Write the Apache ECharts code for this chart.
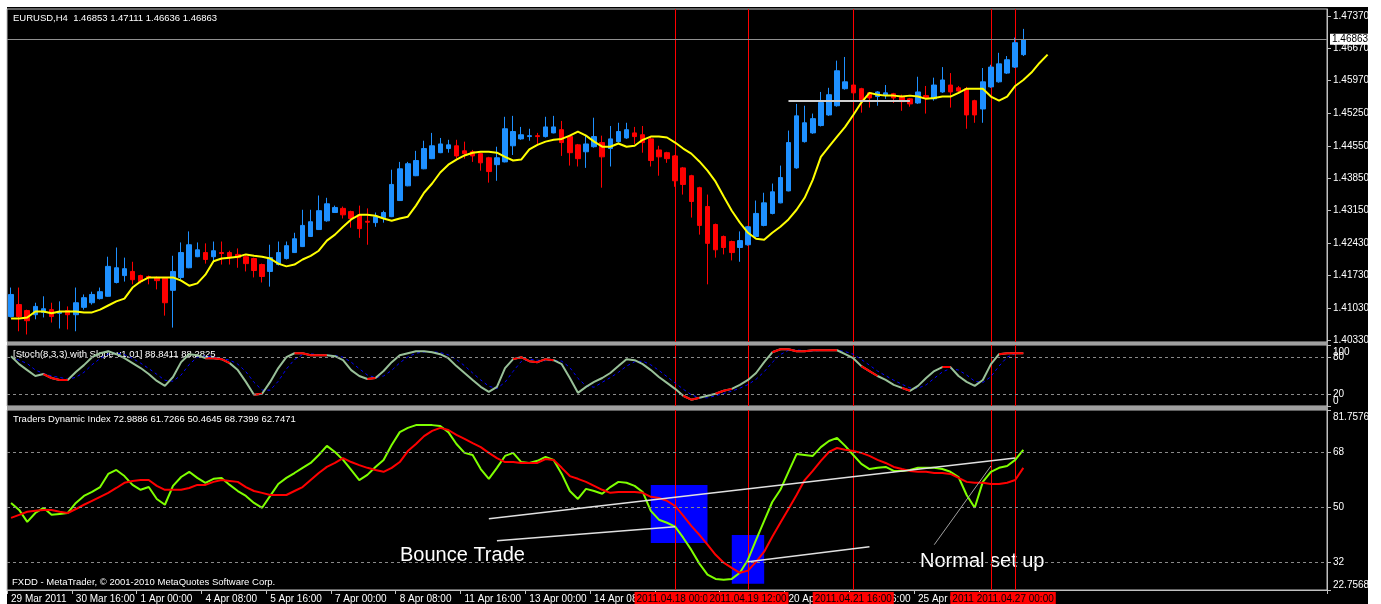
<!DOCTYPE html>
<html>
<head>
<meta charset="utf-8">
<script src="https://cdn.jsdelivr.net/npm/echarts@6/dist/echarts.min.js"></script>
<style>
html, body { margin: 0; padding: 0; background: #fff; }
#frame { position: absolute; left: 7px; top: 7px; width: 1361px; height: 597px; background: #000; }
#chart { position: absolute; left: 0; top: 0; width: 1381px; height: 604px; }
</style>
</head>
<body>
<div id="frame"></div>
<div id="chart"></div>
<script>
// EURUSD H4 bars: [open, close, low, high]
const candles = [
  [1.4084,1.4132,1.4082,1.4147],[1.4110,1.4084,1.4052,1.4147],[1.4097,1.4075,1.4045,1.4099],[1.4088,1.4106,1.4078,1.4114],
  [1.4093,1.4101,1.4082,1.4128],[1.4099,1.4084,1.4071,1.4114],[1.4091,1.4095,1.4058,1.4117],[1.4097,1.4088,1.4056,1.4106],
  [1.4088,1.4114,1.4052,1.4147],[1.4104,1.4125,1.4099,1.4132],[1.4114,1.4132,1.4110,1.4138],[1.4123,1.4138,1.4121,1.4147],
  [1.4128,1.4193,1.4127,1.4214],[1.4158,1.4190,1.4156,1.4234],[1.4173,1.4188,1.4160,1.4212],[1.4182,1.4164,1.4154,1.4203],
  [1.4173,1.4160,1.4156,1.4175],[1.4171,1.4169,1.4154,1.4173],[1.4169,1.4162,1.4143,1.4171],[1.4167,1.4114,1.4086,1.4169],
  [1.4141,1.4182,1.4060,1.4216],[1.4169,1.4223,1.4164,1.4245],[1.4190,1.4240,1.4189,1.4269],[1.4214,1.4229,1.4213,1.4245],
  [1.4223,1.4208,1.4199,1.4243],[1.4214,1.4227,1.4201,1.4247],[1.4223,1.4221,1.4197,1.4247],[1.4223,1.4214,1.4197,1.4227],
  [1.4219,1.4212,1.4190,1.4232],[1.4214,1.4199,1.4182,1.4219],[1.4210,1.4184,1.4169,1.4212],[1.4197,1.4171,1.4158,1.4199],
  [1.4182,1.4212,1.4149,1.4240],[1.4197,1.4223,1.4195,1.4247],[1.4210,1.4238,1.4208,1.4247],[1.4223,1.4253,1.4222,1.4266],
  [1.4236,1.4282,1.4235,1.4316],[1.4258,1.4290,1.4257,1.4316],[1.4273,1.4314,1.4272,1.4347],[1.4292,1.4329,1.4290,1.4342],
  [1.4310,1.4321,1.4309,1.4325],[1.4319,1.4305,1.4297,1.4323],[1.4312,1.4297,1.4277,1.4314],[1.4305,1.4275,1.4255,1.4325],
  [1.4291,1.4289,1.4240,1.4319],[1.4288,1.4301,1.4279,1.4310],[1.4299,1.4310,1.4288,1.4314],[1.4301,1.4371,1.4300,1.4403],
  [1.4336,1.4405,1.4335,1.4420],[1.4368,1.4416,1.4367,1.4420],[1.4390,1.4423,1.4389,1.4444],[1.4405,1.4449,1.4404,1.4466],
  [1.4427,1.4455,1.4426,1.4483],[1.4440,1.4459,1.4439,1.4472],[1.4449,1.4457,1.4440,1.4468],[1.4455,1.4433,1.4427,1.4468],
  [1.4444,1.4438,1.4427,1.4464],[1.4442,1.4433,1.4420,1.4446],[1.4438,1.4418,1.4401,1.4440],[1.4429,1.4399,1.4375,1.4431],
  [1.4414,1.4429,1.4379,1.4453],[1.4420,1.4492,1.4419,1.4518],[1.4455,1.4486,1.4435,1.4520],[1.4470,1.4479,1.4468,1.4496],
  [1.4475,1.4477,1.4466,1.4492],[1.4477,1.4475,1.4457,1.4483],[1.4475,1.4496,1.4473,1.4518],[1.4483,1.4496,1.4482,1.4520],
  [1.4490,1.4462,1.4433,1.4509],[1.4475,1.4440,1.4412,1.4479],[1.4457,1.4427,1.4410,1.4459],[1.4442,1.4459,1.4407,1.4479],
  [1.4453,1.4475,1.4451,1.4516],[1.4462,1.4431,1.4364,1.4477],[1.4449,1.4470,1.4410,1.4498],[1.4464,1.4486,1.4462,1.4505],
  [1.4472,1.4490,1.4470,1.4505],[1.4483,1.4475,1.4459,1.4496],[1.4479,1.4462,1.4440,1.4498],[1.4470,1.4423,1.4410,1.4475],
  [1.4446,1.4431,1.4390,1.4455],[1.4440,1.4427,1.4418,1.4442],[1.4433,1.4379,1.4366,1.4435],[1.4407,1.4371,1.4349,1.4409],
  [1.4390,1.4334,1.4299,1.4392],[1.4364,1.4282,1.4262,1.4366],[1.4323,1.4243,1.4154,1.4349],[1.4284,1.4229,1.4212,1.4286],
  [1.4258,1.4234,1.4219,1.4260],[1.4247,1.4223,1.4206,1.4249],[1.4234,1.4249,1.4203,1.4269],[1.4240,1.4279,1.4238,1.4281],
  [1.4258,1.4308,1.4256,1.4336],[1.4282,1.4331,1.4280,1.4353],[1.4308,1.4355,1.4306,1.4373],[1.4331,1.4386,1.4330,1.4412],
  [1.4357,1.4462,1.4356,1.4488],[1.4407,1.4520,1.4405,1.4546],[1.4464,1.4505,1.4462,1.4542],[1.4483,1.4514,1.4481,1.4525],
  [1.4499,1.4549,1.4497,1.4572],[1.4522,1.4566,1.4520,1.4581],[1.4542,1.4618,1.4540,1.4640],[1.4579,1.4594,1.4577,1.4648],
  [1.4587,1.4570,1.4557,1.4589],[1.4579,1.4555,1.4527,1.4581],[1.4570,1.4559,1.4538,1.4572],[1.4562,1.4572,1.4542,1.4574],
  [1.4564,1.4570,1.4557,1.4587],[1.4568,1.4559,1.4548,1.4570],[1.4562,1.4551,1.4531,1.4566],[1.4557,1.4546,1.4540,1.4559],
  [1.4548,1.4572,1.4546,1.4605],[1.4564,1.4559,1.4525,1.4585],[1.4557,1.4587,1.4553,1.4603],[1.4572,1.4598,1.4570,1.4626],
  [1.4587,1.4572,1.4538,1.4613],[1.4581,1.4574,1.4568,1.4585],[1.4579,1.4522,1.4492,1.4583],[1.4553,1.4522,1.4505,1.4555],
  [1.4535,1.4594,1.4505,1.4624],[1.4583,1.4626,1.4581,1.4631],[1.4594,1.4633,1.4592,1.4657],[1.4613,1.4642,1.4611,1.4650],
  [1.4626,1.4679,1.4624,1.4690],[1.4653,1.4685,1.4650,1.4709]
];

// yellow moving average (drawn shifted forward, so it runs 3 bars past the last candle)
const maLine = [
  1.4080,1.4080,1.4082,1.4095,1.4095,1.4091,1.4095,1.4095,1.4095,1.4093,1.4093,1.4099,1.4108,1.4117,1.4123,1.4147,
  1.4160,1.4169,1.4169,1.4169,1.4169,1.4162,1.4151,1.4156,1.4175,1.4204,1.4210,1.4212,1.4214,1.4219,1.4216,1.4214,
  1.4210,1.4199,1.4193,1.4197,1.4208,1.4216,1.4227,1.4249,1.4262,1.4279,1.4295,1.4305,1.4305,1.4303,1.4297,1.4292,
  1.4297,1.4301,1.4325,1.4353,1.4373,1.4397,1.4414,1.4425,1.4434,1.4440,1.4442,1.4442,1.4440,1.4431,1.4423,1.4425,
  1.4447,1.4457,1.4464,1.4468,1.4470,1.4477,1.4486,1.4477,1.4464,1.4453,1.4453,1.4460,1.4453,1.4455,1.4468,1.4475,
  1.4475,1.4473,1.4462,1.4449,1.4438,1.4421,1.4401,1.4377,1.4345,1.4314,1.4288,1.4266,1.4253,1.4251,1.4266,1.4279,
  1.4295,1.4316,1.4342,1.4381,1.4431,1.4453,1.4475,1.4496,1.4522,1.4549,1.4570,1.4566,1.4564,1.4564,1.4562,1.4564,
  1.4562,1.4557,1.4559,1.4562,1.4562,1.4570,1.4579,1.4579,1.4579,1.4562,1.4553,1.4562,1.4585,1.4598,1.4614,1.4635,
  1.4653
];

// Stoch(8,3,3) main line and its signal line
const stochMain = [
  81.6,68.6,58.9,49.2,52.4,45.9,42.7,42.7,55.7,67.0,80.0,86.5,89.7,84.9,78.4,70.3,62.2,52.4,41.1,33.0,
  47.6,71.9,84.9,83.2,78.4,78.4,76.8,70.3,58.9,39.5,18.4,20.0,39.5,62.2,80.0,86.5,86.5,83.2,83.2,83.2,
  81.6,75.1,58.9,49.2,44.3,45.9,57.3,71.9,83.2,86.5,89.7,89.7,88.1,84.9,78.4,65.4,54.1,42.7,31.4,23.2,
  31.4,62.2,76.8,80.0,73.5,71.9,76.8,75.1,68.6,45.9,21.6,31.4,39.5,45.9,54.1,65.4,76.8,75.1,68.6,58.9,
  47.6,37.9,28.1,16.8,10.3,13.5,16.8,20.0,24.9,28.1,34.6,42.7,54.1,71.9,88.1,93.0,93.0,89.7,89.7,91.4,
  91.4,91.4,91.4,84.9,78.4,65.4,57.3,49.2,42.7,34.6,29.7,24.9,33.0,45.9,57.3,63.8,63.8,49.2,39.5,33.0,
  42.7,68.6,84.9,86.5,86.5,86.5
];
const stochSignal = [
  80.0,75.0,69.7,58.9,53.5,49.2,47.0,43.8,47.0,55.1,67.6,77.8,85.4,87.0,84.3,77.9,70.3,61.6,51.9,42.2,
  40.6,50.8,68.1,80.0,82.2,80.0,77.9,75.2,68.7,56.2,38.9,26.0,26.0,40.6,60.6,76.2,84.3,85.4,84.3,83.2,
  82.7,80.0,71.9,61.1,50.8,46.5,49.2,58.4,70.8,80.5,86.5,88.6,89.2,87.6,83.8,76.2,66.0,54.1,42.7,32.4,
  28.7,38.9,56.8,73.0,76.8,75.1,74.1,74.6,73.5,63.2,45.4,33.0,30.8,38.9,46.5,55.1,65.4,72.4,73.5,67.5,
  58.4,48.1,37.9,27.6,18.4,13.5,13.5,16.8,20.6,24.3,29.2,35.1,43.8,56.2,71.4,84.3,91.4,91.9,90.8,90.3,
  90.8,91.4,91.4,89.2,84.9,76.2,67.0,57.3,49.7,42.2,35.7,29.7,29.2,34.6,45.4,55.7,61.6,58.9,50.8,40.6,
  38.4,48.1,65.4,80.0,86.0,86.5
];
// bar ranges where the stoch line is painted red
const stochRedRanges = [[4,7],[24,27],[30,31],[35,39],[44,45],[62,67],[83,85],[87,89],[94,102],[105,107],[110,111],[115,116],[122,125]];

// Traders Dynamic Index: green (price line) and red (signal line)
const tdiGreen = [
  51.3,49.0,45.1,48.0,49.7,47.4,47.7,48.0,51.3,53.6,54.9,56.5,60.8,62.1,60.1,57.2,55.6,56.5,52.6,50.7,
  56.9,59.8,61.5,59.5,57.9,59.2,59.5,57.2,55.2,53.6,51.3,49.7,53.6,57.5,59.5,61.1,62.8,64.4,67.0,70.0,
  68.0,65.4,62.1,58.8,60.5,63.1,65.4,70.3,74.5,75.9,76.8,76.8,76.8,76.5,74.5,70.6,67.7,67.0,62.4,59.2,
  62.8,66.7,67.7,64.7,64.4,65.1,66.4,65.4,60.8,55.2,52.6,55.9,55.2,54.3,56.5,58.2,57.9,56.9,54.9,48.7,
  45.8,44.8,43.5,39.9,35.9,31.4,27.8,26.4,26.1,26.4,28.4,32.7,39.2,45.4,51.6,55.6,61.5,67.3,67.0,66.7,
  69.6,71.6,72.6,70.0,67.0,64.1,62.4,62.8,63.1,61.8,61.8,62.1,62.8,62.8,62.8,62.4,61.5,59.8,53.9,49.7,
  58.2,61.5,62.8,63.4,65.4,68.7
];
const tdiRed = [
  46.4,47.4,48.4,48.7,49.0,49.0,48.4,48.0,49.3,50.7,52.0,53.3,54.6,56.2,57.9,58.5,58.8,58.8,56.9,55.6,
  55.6,55.6,56.2,57.2,57.2,58.2,58.8,58.5,58.2,56.5,55.2,54.6,53.9,53.9,53.9,55.2,56.5,58.8,61.1,63.1,
  64.4,66.0,64.7,63.7,62.8,62.1,61.5,62.8,64.7,68.3,70.6,73.2,74.9,75.9,75.2,73.6,72.3,70.9,69.6,67.7,
  66.0,64.7,64.7,64.4,64.4,64.4,65.7,65.4,62.8,60.1,59.2,58.2,56.9,55.6,54.6,54.9,54.9,54.9,54.6,53.3,
  52.9,52.0,50.3,47.1,43.8,40.8,37.6,34.3,31.7,30.0,28.4,29.1,32.0,35.3,40.2,44.8,49.3,53.9,58.8,61.8,
  65.1,68.0,69.3,68.7,68.3,67.7,66.7,65.4,64.4,63.1,62.4,61.8,61.5,61.5,61.1,61.1,60.8,59.5,58.2,57.9,
  57.9,57.5,57.5,57.9,58.8,62.8
];

// axis ticks
const priceTicks = [1.4033,1.4103,1.4173,1.4243,1.4315,1.4385,1.4455,1.4525,1.4597,1.4667,1.4737];
const stochTicks = [20,80];
const stochEdgeTicks = [0,100];
const tdiTicks = [22.7568,32,50,68,81.7576];
const stochLevels = [80,20];
const tdiLevels = [68,50,32];
const timeLabels = ['29 Mar 2011','30 Mar 16:00','1 Apr 00:00','4 Apr 08:00','5 Apr 16:00','7 Apr 00:00',
  '8 Apr 08:00','11 Apr 16:00','13 Apr 00:00','14 Apr 08:00','15 Apr 16:00','19 Apr 00:00',
  '20 Apr 08:00','21 Apr 16:00','25 Apr 00:00','26 Apr 08:00'];
const lastPrice = 1.46863;

// annotations
const redLineBars = [82,91,104,121,124];
const redLineTimes = ['2011.04.18 00:00','2011.04.19 12:00','2011.04.21 16:00','2011.04.26 12:00','2011.04.27 00:00'];
const levelLine = [96,111,1.4552];                 // [fromBar, toBar, price]
const trendLines = [[59,46.1,124,66.0],[60,38.9,82,43.5],[91,32.0,106,36.9],[114,37.6,121,63.4]];
const blueBoxes = [[79,57.2,86,38.2],[89,40.8,93,24.8]];

const NSLOT = 163;
const cats = [];
for (let i = 0; i < NSLOT; i++) {
  cats.push(i % 8 === 0 && timeLabels[i / 8] ? timeLabels[i / 8] : '');
}
const stochRed = stochMain.map((v, i) => stochRedRanges.some(r => i >= r[0] && i <= r[1]) ? v : null);

const FONT = 'Liberation Sans';
const AXC = '#c0c0c0';
const SMALL = '9.5px "Liberation Sans"';

function xAx(gi, show) {
  return {
    type: 'category', gridIndex: gi, data: cats, boundaryGap: true,
    axisLine: { show: show, lineStyle: { color: AXC } },
    axisTick: { show: show, length: 4, interval: (i) => i % 8 === 0 && i <= 120, lineStyle: { color: AXC } },
    axisLabel: { show: show, interval: 0, color: '#fff', fontSize: 10, fontFamily: FONT, align: 'left', margin: 4 },
    splitLine: { show: false }
  };
}
// edge labels are pushed inside the panel like the terminal does
const labRich = {
  n: { color: '#fff', fontSize: 10, fontFamily: FONT },
  t: { color: '#fff', fontSize: 10, fontFamily: FONT, padding: [14, 0, 0, 0] },
  b: { color: '#fff', fontSize: 10, fontFamily: FONT, padding: [0, 0, 10, 0] }
};
function yAx(gi, min, max, ticks, fmt, line) {
  return {
    type: 'value', gridIndex: gi, position: 'right', min: min, max: max, scale: true,
    axisLine: { show: line !== false, lineStyle: { color: AXC } },
    axisTick: { show: true, length: 4, customValues: ticks, lineStyle: { color: AXC } },
    axisLabel: { show: true, customValues: ticks, formatter: fmt,
      color: '#fff', fontSize: 10, fontFamily: FONT, margin: 6, rich: labRich },
    splitLine: { show: false }
  };
}
function edgeFmt(min, max) {
  return v => v === max ? '{t|' + v + '}' : v === min ? '{b|' + v + '}' : '{n|' + v + '}';
}
// red vertical lines, snapped to whole pixels so they stay 1px bright red
function vSeries(xi) {
  return {
    type: 'custom', xAxisIndex: xi, yAxisIndex: xi, silent: true, z: 1,
    data: redLineBars.map(b => [b, 0]),
    encode: { x: 0, y: 1 },
    renderItem: (params, api) => {
      const cs = params.coordSys;
      const x = Math.round(api.coord([api.value(0), api.value(1)])[0]) + 0.5;
      return { type: 'line', shape: { x1: x, y1: cs.y, x2: x, y2: cs.y + cs.height },
        style: { stroke: '#ff0000', lineWidth: 1 } };
    }
  };
}
function levels(vals) {
  return vals.map(v => ({ yAxis: v, lineStyle: { color: '#8a8a8a', width: 1, type: [3, 3] } }));
}
const mlBase = { symbol: ['none', 'none'], silent: true, animation: false, precision: 6, label: { show: false } };

const chart = echarts.init(document.getElementById('chart'));
chart.setOption({
  backgroundColor: 'transparent',
  animation: false,
  grid: [
    { left: 7, top: 9, width: 1320, height: 333, show: true, borderColor: AXC, borderWidth: 1 },
    { left: 7, top: 345, width: 1320, height: 61, show: true, borderColor: AXC, borderWidth: 1 },
    { left: 7, top: 410, width: 1320, height: 180, show: true, borderColor: AXC, borderWidth: 1 }
  ],
  xAxis: [xAx(0, false), xAx(1, false), xAx(2, true)],
  yAxis: [
    yAx(0, 1.40287, 1.47522, priceTicks, v => '{n|' + v.toFixed(5) + '}'),
    yAx(1, 0, 100, stochTicks, v => '{n|' + v + '}'),
    yAx(2, 22.7568, 81.7576, tdiTicks, edgeFmt(22.7568, 81.7576)),
    yAx(1, 0, 100, stochEdgeTicks, edgeFmt(0, 100), false)
  ],
  graphic: [
    { type: 'rect', shape: { x: 7, y: 342, width: 1321, height: 3 }, style: { fill: '#a0a0a0' } },
    { type: 'rect', shape: { x: 7, y: 406, width: 1321, height: 4 }, style: { fill: '#a0a0a0' } },
    { type: 'text', left: 13, top: 13, style: { text: 'EURUSD,H4  1.46853 1.47111 1.46636 1.46863', fill: '#fff', font: SMALL } },
    { type: 'text', left: 13, top: 349, style: { text: '[Stoch(8,3,3) with Slope v1.01] 88.8411 88.2825', fill: '#fff', font: SMALL } },
    { type: 'text', left: 13, top: 414, style: { text: 'Traders Dynamic Index 72.9886 61.7266 50.4645 68.7399 62.7471', fill: '#fff', font: SMALL } },
    { type: 'text', left: 12, top: 577, style: { text: 'FXDD - MetaTrader, \u00a9 2001-2010 MetaQuotes Software Corp.', fill: '#fff', font: SMALL } },
    { type: 'text', left: 400, top: 545, style: { text: 'Bounce Trade', fill: '#fff', font: '20px "Liberation Sans"' } },
    { type: 'text', left: 920, top: 551, style: { text: 'Normal set up', fill: '#fff', font: '20px "Liberation Sans"' } }
  ],
  series: [
    vSeries(0),
    vSeries(1),
    vSeries(2),
    {
      name: 'EURUSD', type: 'candlestick', xAxisIndex: 0, yAxisIndex: 0, data: candles, barWidth: 5,
      itemStyle: { color: '#1e90ff', color0: '#ff0000', borderColor: '#1e90ff', borderColor0: '#ff0000', borderWidth: 1 }
    },
    {
      name: 'MA', type: 'line', xAxisIndex: 0, yAxisIndex: 0, data: maLine, symbol: 'none',
      lineStyle: { color: '#ffff00', width: 2 },
      markLine: Object.assign({}, mlBase, {
        data: [
          { yAxis: lastPrice, lineStyle: { color: '#909090', width: 1, type: 'solid' },
            label: { show: true, position: 'end', formatter: lastPrice.toFixed(5), distance: 3,
              backgroundColor: '#fff', color: '#000', fontSize: 10, fontFamily: FONT, padding: [1, 2, 0, 2] } },
          [
            { coord: [levelLine[0], levelLine[2]], lineStyle: { color: '#d0d0d0', width: 2, type: 'solid' } },
            { coord: [levelLine[1], levelLine[2]], lineStyle: { color: '#d0d0d0', width: 2, type: 'solid' } }
          ]
        ]
      })
    },
    {
      name: 'Stoch', type: 'line', xAxisIndex: 1, yAxisIndex: 1, data: stochMain, symbol: 'none',
      lineStyle: { color: '#98c098', width: 2 },
      markLine: Object.assign({}, mlBase, { data: levels(stochLevels) })
    },
    {
      name: 'StochSignal', type: 'line', xAxisIndex: 1, yAxisIndex: 1, data: stochSignal, symbol: 'none', z: 1,
      lineStyle: { color: '#0000ff', width: 1, type: [3, 3] }
    },
    {
      name: 'StochDown', type: 'line', xAxisIndex: 1, yAxisIndex: 1, data: stochRed, symbol: 'none', z: 3,
      lineStyle: { color: '#ff0000', width: 2 }
    },
    {
      name: 'TDI', type: 'line', xAxisIndex: 2, yAxisIndex: 2, data: tdiGreen, symbol: 'none',
      lineStyle: { color: '#7fff00', width: 2 },
      markArea: {
        silent: true, animation: false,
        itemStyle: { color: '#0000ff', opacity: 1 },
        data: blueBoxes.map(b => [{ coord: [b[0], b[1]] }, { coord: [b[2], b[3]] }])
      }
    },
    {
      name: 'TDISignal', type: 'line', xAxisIndex: 2, yAxisIndex: 2, data: tdiRed, symbol: 'none',
      lineStyle: { color: '#ff0000', width: 2 },
      markLine: Object.assign({}, mlBase, {
        data: levels(tdiLevels)
          .concat(trendLines.map((t, k) => {
            const ls = { color: k === 3 ? '#a0a0a0' : '#e0e0e0', width: k === 3 ? 1 : 1.5, type: 'solid' };
            return [{ coord: [t[0], t[1]], lineStyle: ls }, { coord: [t[2], t[3]], lineStyle: ls }];
          }))
          .concat(redLineBars.map((b, k) => ({
            xAxis: b,
            lineStyle: { color: 'rgba(0,0,0,0)', width: 1 },
            label: {
              show: true, position: 'start', formatter: redLineTimes[k], distance: 2,
              backgroundColor: '#ff0000', color: '#000', fontSize: 10, fontFamily: FONT, padding: [2, 2, 1, 2]
            }
          })))
      })
    }
  ]
});
</script>
</body>
</html>
